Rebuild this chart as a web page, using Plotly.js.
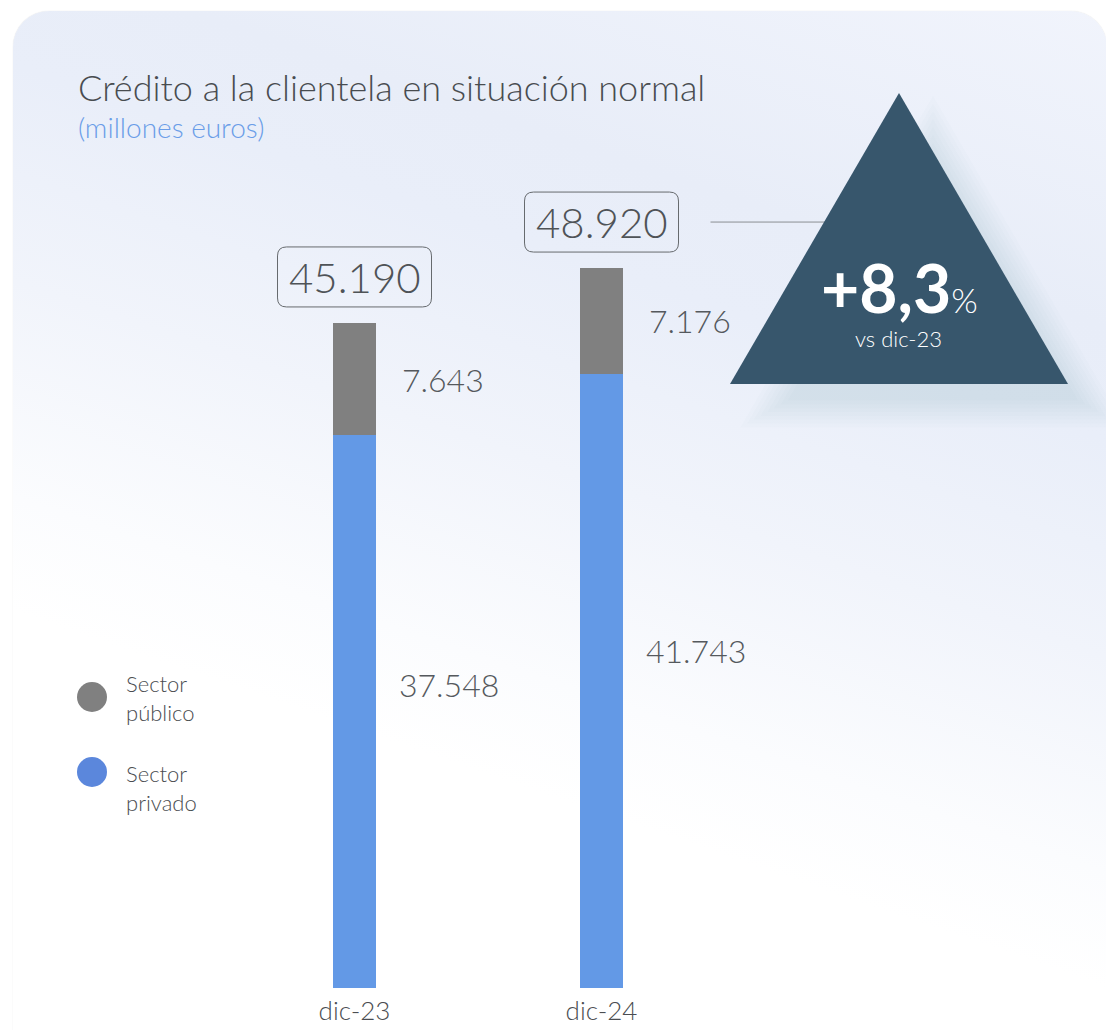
<!DOCTYPE html>
<html>
<head>
<meta charset="utf-8">
<script src="https://cdn.plot.ly/plotly-3.0.1.min.js"></script>
<style>
  html, body { margin: 0; padding: 0; background: #ffffff; }
  #wrap { position: relative; width: 1106px; height: 1030px; overflow: hidden; background: #ffffff; }
  #card {
    position: absolute; left: 13px; top: 11px; width: 1094px; height: 1060px;
    border-radius: 36px;
    background: linear-gradient(199deg, #f1f4fc 0%, #e8edf8 22%, #e9eef9 30%, #f1f4fb 45%, #fbfcfe 60%, #ffffff 68%, #ffffff 100%);
    box-shadow: 0 0 1px rgba(0,0,0,0.18);
  }
  #chart { position: absolute; left: 0; top: 0; width: 1106px; height: 1030px; }
</style>
</head>
<body>
<div id="wrap">
  <div id="card"></div>
  <div id="chart"></div>
</div>
<script>
// ---- data ----
const categories = ['dic-23', 'dic-24'];
const sectorPrivado = [37.548, 41.743];
const sectorPublico = [7.643, 7.176];
const totales = [45.190, 48.920];
const seriesNames = ['Sector privado', 'Sector público'];
const seriesColors = ['#6399e6', '#808080'];
const legendColors = ['#5b87dc', '#808080'];
const titleText = 'Crédito a la clientela en situación normal';
const subtitleText = '(millones euros)';
const variacionRef = 'vs dic-23';

// ---- geometry helpers (pixel -> paper) ----
const W = 1106, H = 1030, MT = 105, MB = 42;
const PH = H - MT - MB;
const px = v => v / W;
const py = v => (H - MB - v) / PH;

const FONT = 'Lato, "Open Sans", sans-serif';
const fmt = v => v.toFixed(3);
const variacionNum = (totales[1] / totales[0] - 1) * 100;
const variacion = (variacionNum >= 0 ? '+' : '') + variacionNum.toFixed(1).replace('.', ',');

const traces = [
  {
    type: 'bar', name: seriesNames[0], x: categories, y: sectorPrivado,
    width: 0.174, marker: { color: seriesColors[0] }, hoverinfo: 'skip'
  },
  {
    type: 'bar', name: seriesNames[1], x: categories, y: sectorPublico,
    width: 0.174, marker: { color: seriesColors[1] }, hoverinfo: 'skip'
  }
];

const annotations = [];
const shapes = [];
const labelFont = { family: FONT, size: 32, color: '#55595d', weight: 300 };

categories.forEach((c, i) => {
  annotations.push({
    x: c, y: sectorPrivado[i] * 0.55, xref: 'x', yref: 'y',
    text: fmt(sectorPrivado[i]), showarrow: false, xanchor: 'left', yanchor: 'middle',
    xshift: 42, font: labelFont
  });
  annotations.push({
    x: c, y: sectorPrivado[i] + sectorPublico[i] / 2, xref: 'x', yref: 'y',
    text: fmt(sectorPublico[i]), showarrow: false, xanchor: 'left', yanchor: 'middle',
    xshift: 45, font: labelFont
  });
  annotations.push({
    x: c, y: totales[i], xref: 'x', yref: 'y',
    text: fmt(totales[i]), showarrow: false, xanchor: 'center', yanchor: 'middle',
    yshift: 46, font: { family: FONT, size: 42, color: '#4f5357', weight: 300 }
  });
  const x0 = -77, x1 = 77, y0 = 16, y1 = 76, r = 9;
  shapes.push({
    type: 'path', xref: 'x', yref: 'y', xsizemode: 'pixel', ysizemode: 'pixel',
    xanchor: c, yanchor: totales[i],
    path: `M ${x0 + r},${y0} L ${x1 - r},${y0} Q ${x1},${y0} ${x1},${y0 + r} L ${x1},${y1 - r} Q ${x1},${y1} ${x1 - r},${y1} L ${x0 + r},${y1} Q ${x0},${y1} ${x0},${y1 - r} L ${x0},${y0 + r} Q ${x0},${y0} ${x0 + r},${y0} Z`,
    line: { color: '#666a6e', width: 1 }, fillcolor: 'rgba(0,0,0,0)'
  });
});

shapes.push({
  type: 'line', xref: 'x', yref: 'y', xsizemode: 'pixel', ysizemode: 'pixel',
  xanchor: categories[1], yanchor: totales[1],
  x0: 109, x1: 240, y0: 46, y1: 46,
  line: { color: '#8a8e93', width: 1 }
});

// triangle with soft shadow
const tri = [[899, 93], [730, 384], [1068, 384]];
const cx = 899, cy = 287;
const triPath = (dx, dy, s) => {
  const pts = tri.map(([x, y]) => [cx + dx + (x - cx) * s, cy + dy + (y - cy) * s]);
  return 'M ' + pts.map(([x, y]) => `${px(x)},${py(y)}`).join(' L ') + ' Z';
};
[0.86, 0.90, 0.94, 0.98, 1.02, 1.06, 1.10, 1.14].forEach(s => {
  shapes.push({
    type: 'path', xref: 'paper', yref: 'paper', path: triPath(34, 30, s),
    fillcolor: 'rgba(120,135,170,0.02)', line: { width: 0 }, layer: 'below'
  });
});
shapes.push({
  type: 'path', xref: 'paper', yref: 'paper', path: triPath(0, 0, 1),
  fillcolor: '#37566c', line: { width: 0 }
});

annotations.push({
  xref: 'paper', yref: 'paper', x: px(899), y: py(287), xanchor: 'center', yanchor: 'middle',
  text: `<b>${variacion}</b><span style="font-size:34px;font-weight:300">%</span>`,
  showarrow: false, font: { family: FONT, size: 66, color: '#ffffff' }
});
annotations.push({
  xref: 'paper', yref: 'paper', x: px(898), y: py(338), xanchor: 'center', yanchor: 'middle',
  text: variacionRef, showarrow: false,
  font: { family: FONT, size: 22, color: '#ffffff', weight: 300 }
});

annotations.push({
  xref: 'paper', yref: 'paper', x: px(76), y: py(87), xanchor: 'left', yanchor: 'middle',
  text: titleText, showarrow: false,
  font: { family: FONT, size: 36, color: '#484c50', weight: 300 }
});
annotations.push({
  xref: 'paper', yref: 'paper', x: px(76), y: py(127), xanchor: 'left', yanchor: 'middle',
  text: subtitleText, showarrow: false,
  font: { family: FONT, size: 28, color: '#6a9de8', weight: 300 }
});

const legendItems = [
  { name: 'Sector<br>público', color: legendColors[1], cy: 697, ty: 698 },
  { name: 'Sector<br>privado', color: legendColors[0], cy: 772, ty: 788 }
];
legendItems.forEach(it => {
  shapes.push({
    type: 'circle', xref: 'paper', yref: 'paper',
    x0: px(92 - 15), x1: px(92 + 15), y0: py(it.cy + 15), y1: py(it.cy - 15),
    fillcolor: it.color, line: { width: 0 }
  });
  annotations.push({
    xref: 'paper', yref: 'paper', x: px(124), y: py(it.ty), xanchor: 'left', yanchor: 'middle',
    align: 'left', text: it.name, showarrow: false,
    font: { family: FONT, size: 22, color: '#4a4d51', weight: 300 }
  });
});

const layout = {
  width: W, height: H,
  margin: { l: 0, r: 0, t: MT, b: MB, pad: 0 },
  paper_bgcolor: 'rgba(0,0,0,0)', plot_bgcolor: 'rgba(0,0,0,0)',
  barmode: 'stack', showlegend: false,
  xaxis: {
    type: 'category', range: [-1.4352, 3.0425], showgrid: false, zeroline: false,
    showline: false, ticks: '', fixedrange: true, ticklabelstandoff: 5,
    tickfont: { family: FONT, size: 26, color: '#4a4d51', weight: 300 }
  },
  yaxis: { range: [0, 60], visible: false, fixedrange: true },
  shapes: shapes, annotations: annotations
};

Plotly.newPlot('chart', traces, layout, { displayModeBar: false, staticPlot: true });
</script>
</body>
</html>
